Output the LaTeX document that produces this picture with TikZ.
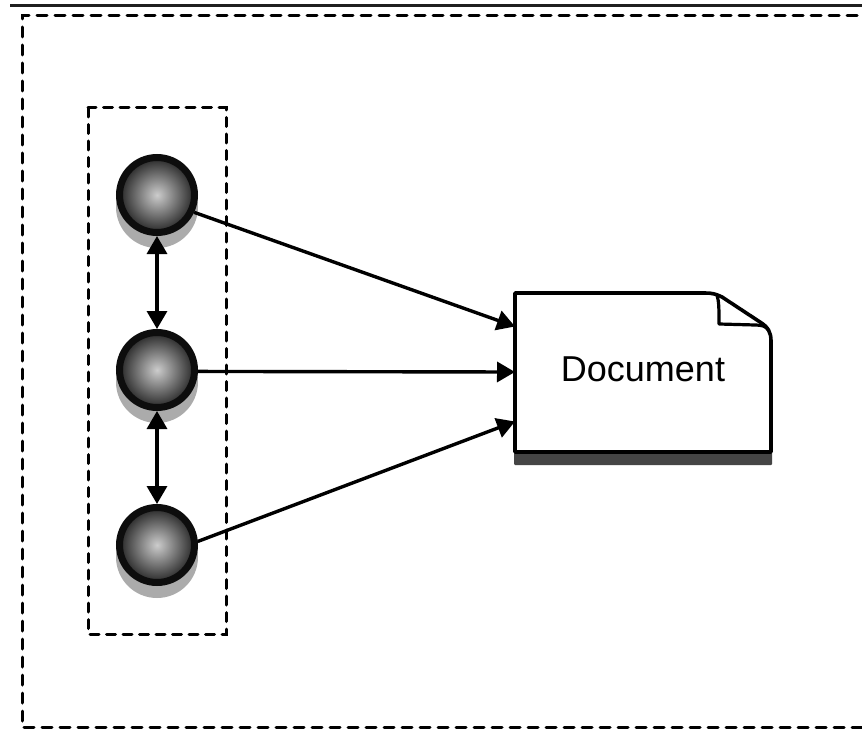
\documentclass[tikz,border=0pt]{standalone}
\usepackage{fontspec}
\setmainfont{Liberation Sans}
\usetikzlibrary{arrows.meta,calc}
\tikzset{
  conn/.style={line width=3.4pt,{Triangle[length=18pt,width=20pt]}-{Triangle[length=18pt,width=20pt]}},
  oneway/.style={line width=3.4pt,-{Triangle[length=18pt,width=20pt]}},
  ball/.style={circle,draw=black!95,line width=7pt,minimum size=75pt,inner sep=0pt,shading=radial,inner color=black!20,outer color=black!85},
  ballshadow/.style={fill=black!33,draw=none},
  outerbox/.style={draw=black,line width=3pt,dash pattern=on 10pt off 8pt,line cap=round},
  innerbox/.style={draw=black,line width=3pt,dash pattern=on 9pt off 7.5pt,line cap=round},
  docbox/.style={draw=none,minimum width=256pt,minimum height=159pt,inner sep=0pt},
  docline/.style={draw=black,line width=3.6pt,line join=round},
}
\begin{document}
\begin{tikzpicture}[x=1pt,y=-1pt]
\useasboundingbox (0,0) rectangle (862,733);
\fill[white] (0,0) rectangle (862,733);
\draw[line width=3pt,black!88] (10,6) -- (862,6);
\draw[outerbox] (875,16) -- (22,16) -- (22,727) -- (875,727);
\clip (0,0) rectangle (862,733);
\draw[innerbox] (88,108) rectangle (226,634);
% shadows
\fill[ballshadow] (157,207) circle[radius=41pt];
\fill[ballshadow] (157,382) circle[radius=41pt];
\fill[ballshadow] (157,557) circle[radius=41pt];
\fill[black!73,rounded corners=1pt] (514,452) rectangle (772,465);
% document
\fill[white] (515,293) -- (705,293) .. controls (712,293) and (716,294) .. (722,297) -- (760,322) .. controls (768,327) and (771,332) .. (771,341) -- (771,452) -- (515,452) -- cycle;
\draw[docline] (515,293) -- (705,293) .. controls (712,293) and (716,294) .. (722,297) -- (760,322) .. controls (768,327) and (771,332) .. (771,341) -- (771,452) -- (515,452) -- cycle;
\draw[docline,line width=3.2pt] (717,295) .. controls (719,302) and (719,308) .. (719,324) -- (755,325) .. controls (762,325) and (766,326) .. (769,331);
\node[docbox] (doc) at (643,372.5) {};
\node[font=\fontsize{36pt}{40pt}\selectfont] (doclabel) at (643,369) {Document};
\coordinate (p1) at (515,326.5);
\coordinate (p2) at (515,372);
\coordinate (p3) at (515,421.5);
% balls
\node[ball] (c1) at (157,195) {};
\node[ball] (c2) at (157,370) {};
\node[ball] (c3) at (157,545) {};
% connectors
\draw[conn] (c1) -- (c2);
\draw[conn] (c2) -- (c3);
\draw[oneway] (c1.-25) -- (p1);
\draw[oneway] (c2.-2) -- (p2);
\draw[oneway] (c3.5) -- (p3);
\end{tikzpicture}
\end{document}
